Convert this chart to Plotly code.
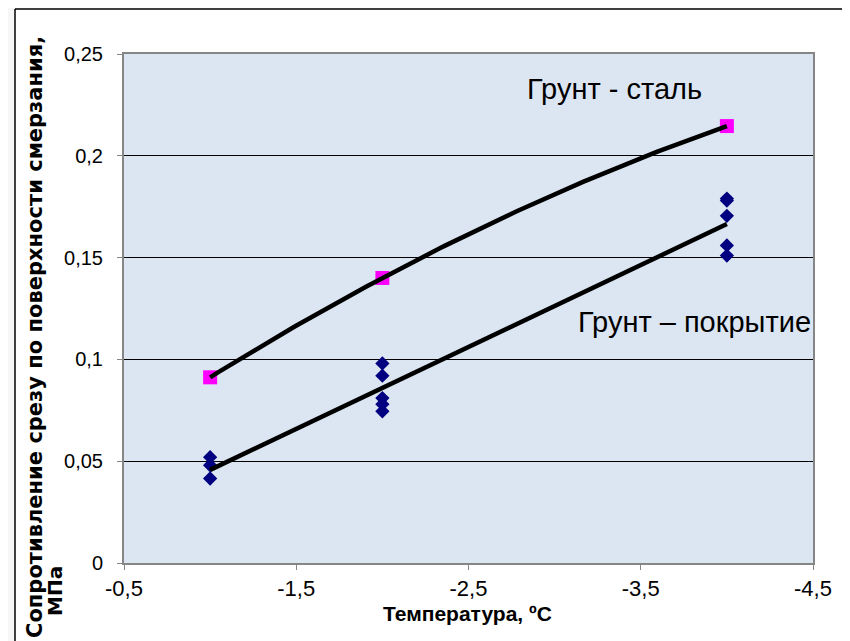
import numpy as np
import plotly.graph_objects as go

# ---- data ----
steel_x = [-1, -2, -4]
steel_y = [0.0912, 0.140, 0.2146]

coat_x = [-1, -1, -1, -2, -2, -2, -2, -2, -4, -4, -4, -4, -4]
coat_y = [0.052, 0.048, 0.0415, 0.098, 0.092, 0.081, 0.078, 0.0745,
          0.179, 0.178, 0.1705, 0.156, 0.151]

x_tickvals = [-0.5, -1.5, -2.5, -3.5, -4.5]
x_ticktext = ["-0,5", "-1,5", "-2,5", "-3,5", "-4,5"]
y_tickvals = [0, 0.05, 0.1, 0.15, 0.2, 0.25]
y_ticktext = ["0", "0,05", "0,1", "0,15", "0,2", "0,25"]

label_steel = "Грунт - сталь"
label_coat = "Грунт – покрытие"
x_title = "Температура, ºC"
y_title_1 = "Сопротивление срезу по поверхности смерзания,"
y_title_2 = "МПа"

# ---- trendlines (fitted from the data, like the spreadsheet trendlines) ----
steel_fit = np.polyfit(steel_x, steel_y, 2)
coat_fit = np.polyfit(coat_x, coat_y, 1)
tx = np.linspace(min(steel_x), max(steel_x), 120)
steel_trend = np.polyval(steel_fit, tx)
coat_trend = np.polyval(coat_fit, tx)

# ---- layout geometry (pixels; page has an 8px body margin) ----
OFF = 8
W, H = 850, 641
L, R, T, B = 124 - OFF, 813 - OFF, 54 - OFF, 563 - OFF
pw, ph = R - L, B - T


def px(x):
    return (x - OFF - L) / pw


def py(y):
    return (B - (y - OFF)) / ph


FONT = "Liberation Sans, Arial, sans-serif"
TFONT = "DejaVu Sans, Liberation Sans, sans-serif"

fig = go.Figure()

fig.add_trace(go.Scatter(
    x=coat_x, y=coat_y, mode="markers",
    marker=dict(symbol="diamond", size=11, color="#000080",
                line=dict(width=0)),
    showlegend=False, hoverinfo="x+y"))
fig.add_trace(go.Scatter(
    x=steel_x, y=steel_y, mode="markers",
    marker=dict(symbol="square", size=14, color="#ff00ff",
                line=dict(width=0)),
    showlegend=False, hoverinfo="x+y"))
fig.add_trace(go.Scatter(
    x=tx, y=steel_trend, mode="lines",
    line=dict(color="black", width=4.5),
    showlegend=False, hoverinfo="skip"))
fig.add_trace(go.Scatter(
    x=tx, y=coat_trend, mode="lines",
    line=dict(color="black", width=4.5),
    showlegend=False, hoverinfo="skip"))

GRAY = "#f6f6f6"
fig.update_layout(
    width=W, height=H,
    margin=dict(l=L, r=W - R, t=T, b=H - B, pad=0),
    paper_bgcolor="white",
    plot_bgcolor="#dce6f2",
    font=dict(family=FONT, color="black"),
    showlegend=False,
    xaxis=dict(
        range=[-0.5, -4.5], tickmode="array",
        tickvals=x_tickvals, ticktext=x_ticktext,
        showgrid=False, zeroline=False,
        showline=True, mirror=True, linecolor="#868686", linewidth=2,
        ticks="outside", ticklen=5, tickcolor="#868686", tickwidth=1,
        tickfont=dict(size=22, family=FONT),
    ),
    yaxis=dict(
        range=[0, 0.25], tickmode="array",
        tickvals=y_tickvals, ticktext=y_ticktext,
        showgrid=True, gridcolor="black", gridwidth=1, zeroline=False,
        showline=True, mirror=True, linecolor="#868686", linewidth=2,
        ticks="outside", ticklen=5, tickcolor="#868686", tickwidth=1,
        ticklabelstandoff=10,
        tickfont=dict(size=20, family=FONT),
    ),
    shapes=[
        dict(type="rect", xref="paper", yref="paper", layer="below",
             x0=px(0), x1=px(15), y0=py(H + 10), y1=py(0),
             line=dict(width=0), fillcolor=GRAY),
        dict(type="rect", xref="paper", yref="paper", layer="below",
             x0=px(0), x1=px(W + 10), y0=py(9), y1=py(0),
             line=dict(width=0), fillcolor=GRAY),
        dict(type="line", xref="paper", yref="paper",
             x0=px(15), x1=px(15), y0=py(9), y1=py(H + 10),
             line=dict(color="black", width=1.5)),
        dict(type="line", xref="paper", yref="paper",
             x0=px(15), x1=px(W + 10), y0=py(9), y1=py(9),
             line=dict(color="black", width=1.5)),
    ],
    annotations=[
        dict(text=label_steel, xref="paper", yref="paper",
             x=px(614), y=py(89), xanchor="center", yanchor="middle",
             showarrow=False, font=dict(size=29, family=FONT)),
        dict(text=label_coat, xref="paper", yref="paper",
             x=px(576), y=py(322), xanchor="left", yanchor="middle",
             showarrow=False, font=dict(size=29, family=FONT)),
        dict(text="<b>" + x_title + "</b>", xref="paper", yref="paper",
             x=px(467), y=py(613), xanchor="center", yanchor="middle",
             showarrow=False, font=dict(size=21, family=FONT)),
        dict(text="<b>" + y_title_1 + "</b>", xref="paper", yref="paper",
             x=px(35), y=py(640), xanchor="center", yanchor="bottom",
             textangle=-90, showarrow=False,
             font=dict(size=21, family=TFONT)),
        dict(text="<b>" + y_title_2 + "</b>", xref="paper", yref="paper",
             x=px(55), y=py(618), xanchor="center", yanchor="bottom",
             textangle=-90, showarrow=False,
             font=dict(size=20, family=TFONT)),
    ],
)

fig.write_html("out.html")
